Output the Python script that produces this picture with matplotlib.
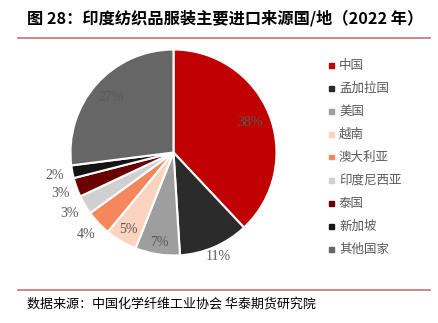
import matplotlib
matplotlib.use("Agg")
import matplotlib.pyplot as plt
import numpy as np

plt.rcParams['font.family'] = ['Noto Sans CJK SC', 'DejaVu Sans']

categories = ["中国", "孟加拉国", "美国", "越南", "澳大利亚", "印度尼西亚", "泰国", "新加坡", "其他国家"]
values = [38, 11, 7, 5, 4, 3, 3, 2, 27]
pct_labels = ["38%", "11%", "7%", "5%", "4%", "3%", "3%", "2%", "27%"]
colors = ["#C00000", "#2B2B2B", "#9E9E9E", "#FBD3BF", "#F4885C", "#D0D0D0", "#6A0000", "#141414", "#666666"]
label_dist = [0.8, 1.1, 0.88, 0.87, 1.17, 1.17, 1.17, 1.17, 0.81]

fig = plt.figure(figsize=(4.39, 3.23), dpi=100)
W, H = 439, 323
R = 103
cx, cy = 173.5, 152.5
ax = fig.add_axes([(cx - R) / W, 1 - (cy + R) / H, 2 * R / W, 2 * R / H])
wedges, _ = ax.pie(values, colors=colors, startangle=90, counterclock=False,
                   wedgeprops=dict(edgecolor="white", linewidth=1.5))
ax.set_xlim(-1, 1)
ax.set_ylim(-1, 1)
ax.set_aspect('auto')
ax.axis('off')

for w, lab, d in zip(wedges, pct_labels, label_dist):
    ang = np.deg2rad((w.theta1 + w.theta2) / 2)
    ax.text(d * np.cos(ang), d * np.sin(ang), lab, ha='center', va='center',
            fontsize=10, color='#595959', family=['Liberation Serif'], clip_on=False)

# legend
for i, (cat, col) in enumerate(zip(categories, colors)):
    y = 65 + i * 23.0
    fig.patches.append(plt.Rectangle((329 / W, 1 - (y + 2.5) / H), 5 / W, 5 / H,
                                     transform=fig.transFigure, color=col, figure=fig))
    fig.text(339 / W, 1 - y / H, cat, ha='left', va='center', fontsize=9, color='#595959')

# title
fig.text(27 / W, 1 - 18 / H, "图 28：印度纺织品服装主要进口来源国/地（2022 年）", ha='left', va='center',
         fontsize=11.7, fontweight='bold', color='black')
# rules
fig.add_artist(plt.Line2D([18 / W, 430 / W], [1 - 38 / H, 1 - 38 / H], color='#C9706E', linewidth=1.2))
fig.add_artist(plt.Line2D([18 / W, 430 / W], [1 - 290 / H, 1 - 290 / H], color='#C9706E', linewidth=1.2))
# source
fig.text(27 / W, 1 - 304 / H, "数据来源：中国化学纤维工业协会 华泰期货研究院", ha='left', va='center',
         fontsize=9.4, color='black')

fig.savefig("out.png", dpi=100)
